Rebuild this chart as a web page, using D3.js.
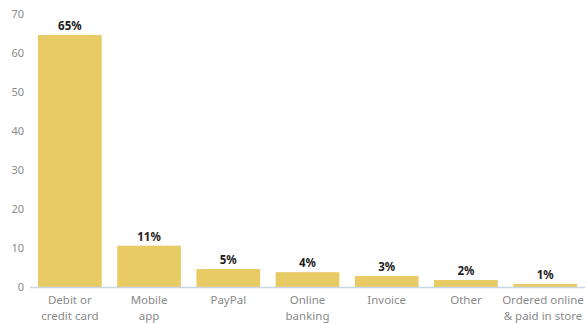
<!DOCTYPE html>
<html><head><meta charset="utf-8">
<script src="https://cdn.jsdelivr.net/npm/d3@7"></script>
<style>body{margin:0;background:#fff}svg{display:block}</style>
</head><body>
<script>
const categories = [["Debit or","credit card"],["Mobile","app"],["PayPal"],["Online","banking"],["Invoice"],["Other"],["Ordered online","& paid in store"]];
const values = [64.6, 10.6, 4.6, 3.8, 2.8, 1.8, 0.8];
const valueLabels = ["65%","11%","5%","4%","3%","2%","1%"];
const yTicks = [0,10,20,30,40,50,60,70];

const W=586,H=323;
const svg=d3.select("body").append("svg").attr("width",W).attr("height",H);
const font='"Noto Sans", sans-serif';
const x=d3.scaleBand().domain(d3.range(values.length)).range([30.25,584.75]).paddingInner(0.195).paddingOuter(0.0975);
const y=d3.scaleLinear().domain([0,70]).range([287,14]);

svg.append("g").selectAll("text").data(yTicks).join("text")
  .attr("x",24).attr("y",d=>y(d)).attr("dy","0.35em").attr("text-anchor","end")
  .attr("font-family",font).attr("font-size",11).attr("fill","#8a8a8a").text(d=>d);

svg.append("g").selectAll("rect").data(values).join("rect")
  .attr("x",(d,i)=>x(i)).attr("width",x.bandwidth())
  .attr("y",d=>y(d)).attr("height",d=>y(0)-y(d)).attr("fill","#E8CB65");

svg.append("line").attr("x1",30).attr("x2",585).attr("y1",287.5).attr("y2",287.5)
  .attr("stroke","#c9d6e3").attr("stroke-width",1.5);

svg.append("g").selectAll("text").data(values).join("text")
  .attr("x",(d,i)=>x(i)+x.bandwidth()/2).attr("y",d=>y(d)-5)
  .attr("text-anchor","middle").attr("font-family",font).attr("font-size",11.5)
  .attr("font-weight","bold").attr("fill","#222").text((d,i)=>valueLabels[i]);

const cl=svg.append("g").selectAll("text").data(categories).join("text")
  .attr("text-anchor","middle").attr("font-family",font).attr("font-size",11.5).attr("fill","#8a8a8a");
cl.each(function(lines,i){
  const t=d3.select(this);
  const cx=Math.min(x(i)+x.bandwidth()/2, 543);
  lines.forEach((l,j)=>t.append("tspan").attr("x",cx).attr("y",304+j*15.5).text(l));
});
</script>
</body></html>
